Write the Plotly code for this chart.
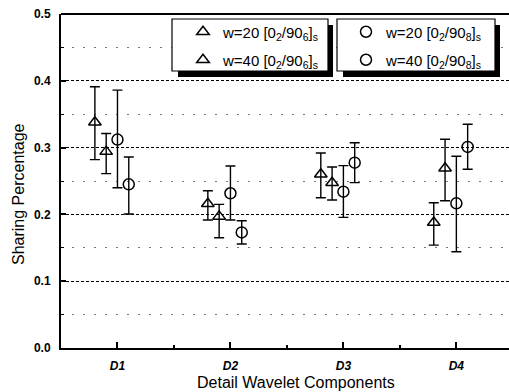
import plotly.graph_objects as go

categories = ["D1", "D2", "D3", "D4"]
cat_pos = [1, 2, 3, 4]

series_names = ["w=20 [0<sub>2</sub>/90<sub>6</sub>]<sub>s</sub>",
                "w=40 [0<sub>2</sub>/90<sub>6</sub>]<sub>s</sub>",
                "w=20 [0<sub>2</sub>/90<sub>8</sub>]<sub>s</sub>",
                "w=40 [0<sub>2</sub>/90<sub>8</sub>]<sub>s</sub>"]
series_symbols = ["triangle-up-open", "triangle-up-open", "circle-open", "circle-open"]
series_offsets = [-0.2, -0.1, 0.0, 0.1]

tri20_mean = [0.338, 0.216, 0.260, 0.188]
tri20_high = [0.391, 0.2355, 0.292, 0.2175]
tri20_low = [0.282, 0.1916, 0.225, 0.154]

tri40_mean = [0.294, 0.197, 0.2475, 0.269]
tri40_high = [0.321, 0.215, 0.271, 0.3124]
tri40_low = [0.261, 0.165, 0.2216, 0.2205]

cir20_mean = [0.312, 0.2316, 0.234, 0.2166]
cir20_high = [0.386, 0.2725, 0.273, 0.287]
cir20_low = [0.240, 0.1916, 0.1956, 0.144]

cir40_mean = [0.245, 0.173, 0.2774, 0.301]
cir40_high = [0.286, 0.1906, 0.3073, 0.335]
cir40_low = [0.2006, 0.1557, 0.2475, 0.2675]

y_ticks = [0.0, 0.1, 0.2, 0.3, 0.4, 0.5]
y_ticktext = ["0.0", "0.1", "0.2", "0.3", "0.4", "0.5"]

means = [tri20_mean, tri40_mean, cir20_mean, cir40_mean]
highs = [tri20_high, tri40_high, cir20_high, cir40_high]
lows = [tri20_low, tri40_low, cir20_low, cir40_low]

FONT = "Liberation Sans, Arial, sans-serif"
PW = 448.0  # plot area width in px
PH = 334.0  # plot area height in px


def px_x(p):
    return (p - 61) / PW


def px_y(p):
    return (348 - p) / PH


# legend placements (pixel positions of legend left edge and row centre)
legend_ids = ["legend2", "legend3", "legend4", "legend5"]
legend_px = [(183, 32), (183, 60), (346, 32), (346, 60)]

fig = go.Figure()
for i in range(4):
    xs = [c + series_offsets[i] for c in cat_pos]
    up = [h - m for h, m in zip(highs[i], means[i])]
    dn = [m - l for m, l in zip(means[i], lows[i])]
    fig.add_trace(go.Scatter(
        x=xs, y=means[i], mode="markers", name=series_names[i],
        marker=dict(symbol=series_symbols[i], size=11, color="black",
                    line=dict(width=1.5, color="black")),
        error_y=dict(type="data", symmetric=False, array=up, arrayminus=dn,
                     color="black", thickness=1.4, width=5),
        legend=legend_ids[i],
    ))

layout_legends = {}
for lid, (lx, ly) in zip(legend_ids, legend_px):
    layout_legends[lid] = dict(
        x=px_x(lx), y=px_y(ly), xanchor="left", yanchor="middle",
        bgcolor="rgba(0,0,0,0)", borderwidth=0,
        font=dict(family=FONT, size=15, color="black"),
    )

shapes = []
# legend boxes with shadows
for (x0, x1) in [(172, 328), (337, 495)]:
    shapes.append(dict(type="rect", xref="paper", yref="paper",
                       x0=px_x(x0 + 6), x1=px_x(x1 + 5), y0=px_y(77), y1=px_y(25),
                       fillcolor="black", line=dict(width=0), layer="above"))
    shapes.append(dict(type="rect", xref="paper", yref="paper",
                       x0=px_x(x0), x1=px_x(x1), y0=px_y(71), y1=px_y(19),
                       fillcolor="white", line=dict(width=1.2, color="black"), layer="above"))
# top frame line
shapes.append(dict(type="line", xref="paper", yref="paper", x0=0, x1=1, y0=1, y1=1,
                   line=dict(width=2, color="black"), layer="above"))

fig.update_layout(
    width=509, height=392,
    margin=dict(l=61, r=0, t=14, b=44, autoexpand=False),
    paper_bgcolor="white", plot_bgcolor="white",
    font=dict(family=FONT, color="black"),
    shapes=shapes,
    showlegend=True,
    **layout_legends,
    xaxis=dict(
        range=[0.5, 4.466], tickvals=cat_pos, ticktext=categories,
        ticks="inside", ticklen=6, tickwidth=1.5, tickcolor="black",
        tickfont=dict(family=FONT, size=12, weight="bold", style="italic", color="black"),
        showline=True, linewidth=2, linecolor="black", showgrid=False, zeroline=False,
        minor=dict(ticks="inside", ticklen=3, tickwidth=1.5, tickcolor="black",
                   tick0=0.5, dtick=1, showgrid=False),
        ticklabelstandoff=6, automargin=False,
    ),
    yaxis=dict(
        range=[0, 0.5], tickvals=y_ticks, ticktext=y_ticktext,
        ticks="inside", ticklen=5, tickwidth=1.5, tickcolor="black",
        tickfont=dict(family=FONT, size=12, weight="bold", color="black"),
        showline=True, linewidth=2, linecolor="black",
        showgrid=True, gridcolor="black", gridwidth=1, griddash="3px,2px",
        zeroline=False,
        minor=dict(ticks="inside", ticklen=3, tickwidth=1.2, tickcolor="black",
                   tick0=0.05, dtick=0.1, showgrid=True, gridcolor="#777777",
                   gridwidth=1, griddash="2px,9px"),
        ticklabelstandoff=6, automargin=False,
    ),
    annotations=[
        dict(text="Sharing Percentage", xref="paper", yref="paper",
             x=px_x(18), y=px_y(194), textangle=-90,
             showarrow=False, font=dict(family=FONT, size=16, color="black"),
             xanchor="center", yanchor="middle"),
        dict(text="Detail Wavelet Components", xref="paper", yref="paper",
             x=px_x(296), y=px_y(382),
             showarrow=False, font=dict(family=FONT, size=16, color="black"),
             xanchor="center", yanchor="middle"),
    ],
)

fig.write_html("out.html")
